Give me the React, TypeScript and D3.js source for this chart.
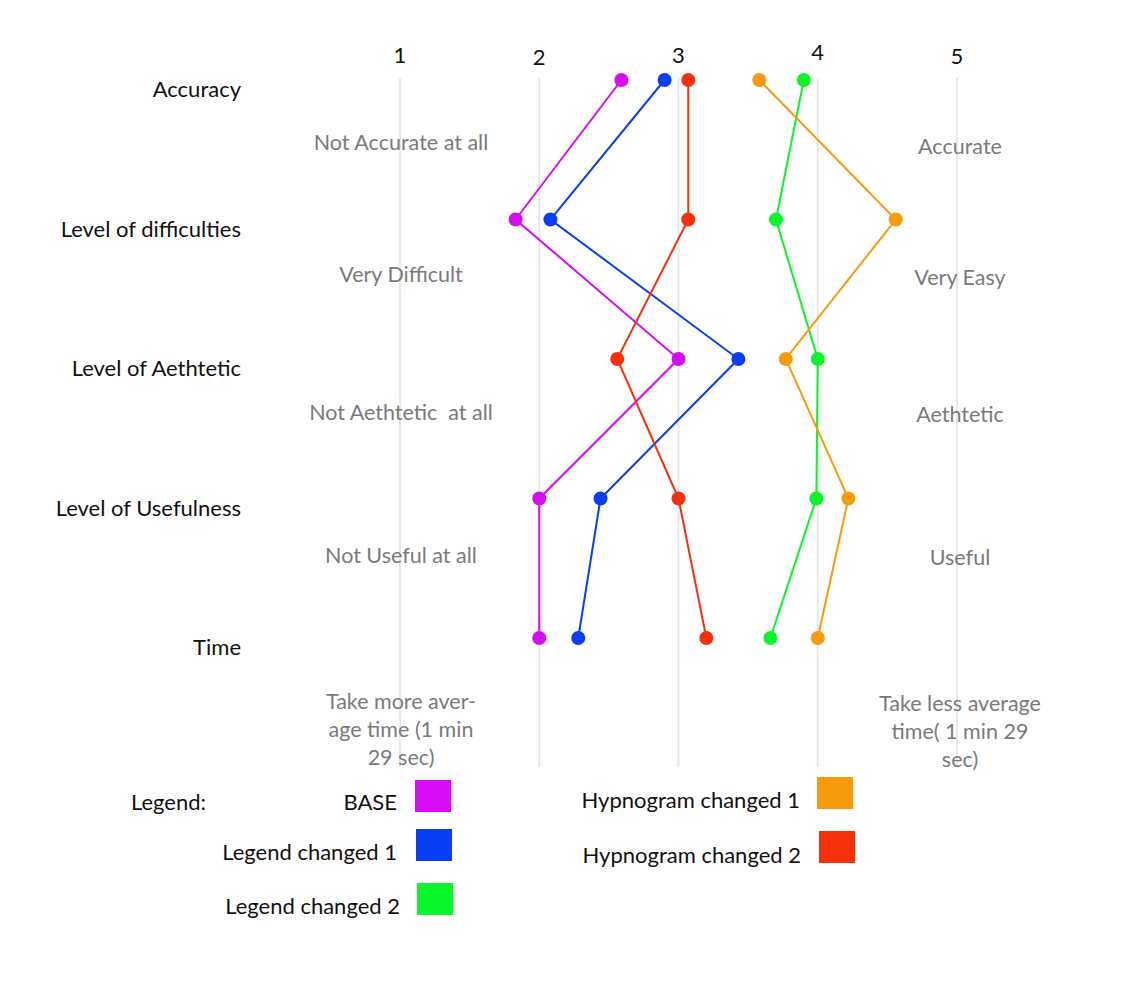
import React from "react";
import * as d3 from "d3";

const categories = ["Accuracy", "Level of difficulties", "Level of Aethtetic", "Level of Usefulness", "Time"];
const ticks = [1, 2, 3, 4, 5];
const leftLabels = [["Not Accurate at all"], ["Very Difficult"], ["Not Aethtetic  at all"], ["Not Useful at all"], ["Take more aver-", "age time (1 min", "29 sec)"]];
const rightLabels = [["Accurate"], ["Very Easy"], ["Aethtetic"], ["Useful"], ["Take less average", "time( 1 min 29", "sec)"]];

const seriesNames = ["BASE", "Legend changed 1", "Legend changed 2", "Hypnogram changed 1", "Hypnogram changed 2"];
const seriesColors = ["#d60cf5", "#0a3ef5", "#0af52a", "#f79a0c", "#f7300c"];
const baseValues = [2.59, 1.83, 3.0, 2.0, 2.0];
const legendChanged1 = [2.9, 2.08, 3.43, 2.44, 2.28];
const legendChanged2 = [3.9, 3.7, 4.0, 3.99, 3.66];
const hypnoChanged1 = [3.58, 4.56, 3.77, 4.22, 4.0];
const hypnoChanged2 = [3.07, 3.07, 2.56, 3.0, 3.2];
const seriesValues = [baseValues, legendChanged1, legendChanged2, hypnoChanged1, hypnoChanged2];

const W = 1126;
const H = 996;
const FONT = "Lato, 'Noto Sans', sans-serif";

// layout (pixel) positions of the annotation labels
const leftLabelY = [143, 275, 413, 556, 702];
const rightLabelY = [147, 278, 415, 558, 704];
const tickLabelY = [55, 57, 55, 52, 56];

export default function App() {
  const x = d3.scaleLinear().domain([1, 5]).range([400, 957]);
  const y = d3.scalePoint<string>().domain(categories).range([80, 638]);
  const line = d3
    .line<number>()
    .x((d) => x(d))
    .y((_, i) => y(categories[i]) as number);

  const legendPos = [
    { tx: 397, ty: 803, sx: 415, sy: 780 },
    { tx: 397, ty: 853, sx: 416, sy: 829 },
    { tx: 400, ty: 907, sx: 417, sy: 883 },
    { tx: 800, ty: 801, sx: 817, sy: 777 },
    { tx: 801, ty: 856, sx: 819, sy: 831 },
  ];

  return (
    <svg width={W} height={H} style={{ position: "absolute", left: 0, top: 0, background: "#fff" }} fontFamily={FONT}>
      {ticks.map((t, i) => (
        <g key={t}>
          <line x1={x(t)} x2={x(t)} y1={78} y2={767} stroke="#e8e8e8" strokeWidth={2} />
          <text x={x(t)} y={tickLabelY[i] + 8} textAnchor="middle" fontSize={22} fill="#111">
            {t}
          </text>
        </g>
      ))}
      {categories.map((c, i) => {
        const cy = y(c) as number;
        return (
          <g key={c}>
            <text x={241} y={cy + 17} textAnchor="end" fontSize={22} fill="#111">
              {c}
            </text>
            {leftLabels[i].map((l, j) => (
              <text key={"l" + j} x={401} y={leftLabelY[i] + 7 + j * 28} textAnchor="middle" fontSize={21.5} fill="#7a7a7a" style={{ whiteSpace: "pre" }}>
                {l}
              </text>
            ))}
            {rightLabels[i].map((l, j) => (
              <text key={"r" + j} x={960} y={rightLabelY[i] + 7 + j * 28} textAnchor="middle" fontSize={21.5} fill="#7a7a7a">
                {l}
              </text>
            ))}
          </g>
        );
      })}
      {seriesValues.map((vals, s) => (
        <g key={s}>
          <path d={line(vals) || ""} fill="none" stroke={seriesColors[s]} strokeWidth={2} />
          {vals.map((v, i) => (
            <circle key={i} cx={x(v)} cy={y(categories[i]) as number} r={7} fill={seriesColors[s]} />
          ))}
        </g>
      ))}
      <text x={131} y={810} fontSize={22} fill="#111">
        Legend:
      </text>
      {seriesNames.map((n, s) => (
        <g key={n}>
          <text x={legendPos[s].tx} y={legendPos[s].ty + 7} textAnchor="end" fontSize={22} fill="#111">
            {n}
          </text>
          <rect x={legendPos[s].sx} y={legendPos[s].sy} width={36} height={32} fill={seriesColors[s]} />
        </g>
      ))}
    </svg>
  );
}
